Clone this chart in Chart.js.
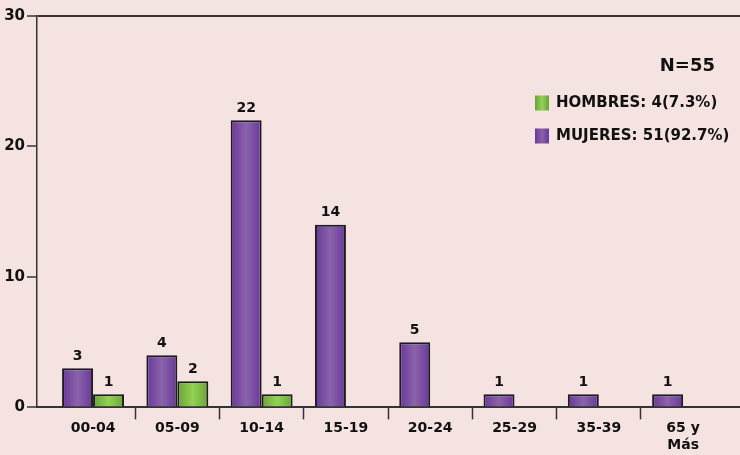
<!DOCTYPE html>
<html>
<head>
<meta charset="utf-8">
<script src="https://cdn.jsdelivr.net/npm/chart.js"></script>
<style>
html, body { margin:0; padding:0; background:#f4e3e1; }
#wrap { width:740px; height:455px; }
</style>
</head>
<body>
<div id="wrap"><canvas id="myChart"></canvas></div>
<script>
var categories = ['00-04', '05-09', '10-14', '15-19', '20-24', '25-29', '35-39', ['65 y', 'Más']];
var mujeres = [3, 4, 22, 14, 5, 1, 1, 1];
var hombres = [1, 2, 1, 0, 0, 0, 0, 0];
var yTicks = [0, 10, 20, 30];

var sum = function(a) { return a.reduce(function(s, v) { return s + v; }, 0); };
var total = sum(mujeres) + sum(hombres);
var legendText = function(name, arr) {
  return name + ': ' + sum(arr) + '(' + (sum(arr) / total * 100).toFixed(1) + '%)';
};

Chart.defaults.font.family = '"DejaVu Sans", Verdana, sans-serif';
Chart.defaults.font.weight = 'bold';
Chart.defaults.color = '#111';

// horizontal gradient on every bar
var barGradient = {
  id: 'barGradient',
  beforeDatasetDraw: function(chart, args) {
    var ctx = chart.ctx;
    var ds = chart.data.datasets[args.index];
    args.meta.data.forEach(function(el) {
      var p = el.getProps(['x', 'width'], true);
      var g = ctx.createLinearGradient(p.x - p.width / 2, 0, p.x + p.width / 2, 0);
      g.addColorStop(0, ds.edgeColor);
      g.addColorStop(0.5, ds.midColor);
      g.addColorStop(1, ds.edgeColor);
      if (!Object.isFrozen(el.options)) el.options.backgroundColor = g;
    });
  }
};

// numbers above bars
var valueLabels = {
  id: 'valueLabels',
  afterDatasetsDraw: function(chart) {
    var ctx = chart.ctx;
    ctx.save();
    ctx.font = 'bold 14px "DejaVu Sans"';
    ctx.fillStyle = '#111';
    ctx.textAlign = 'center';
    ctx.textBaseline = 'bottom';
    chart.data.datasets.forEach(function(ds, di) {
      chart.getDatasetMeta(di).data.forEach(function(el, i) {
        var v = ds.data[i].y;
        if (v > 0) ctx.fillText(v, el.x, el.y - 5);
      });
    });
    ctx.restore();
  }
};

// N and legend inside plot, top right
var cornerLegend = {
  id: 'cornerLegend',
  afterDraw: function(chart) {
    var ctx = chart.ctx;
    var r = chart.chartArea.right;
    ctx.save();
    ctx.fillStyle = '#111';
    ctx.textBaseline = 'middle';
    ctx.font = 'bold 18px "DejaVu Sans"';
    ctx.textAlign = 'right';
    ctx.fillText('N=' + total, r - 25, 66);
    ctx.font = 'bold 15px "DejaVu Sans"';
    ctx.textAlign = 'left';
    var list = chart.data.datasets.slice().reverse();
    list.forEach(function(ds, k) {
      var y = 103 + k * 33;
      var bx = r - 205, bw = 14, bh = 15;
      var g = ctx.createLinearGradient(bx, 0, bx + bw, 0);
      g.addColorStop(0, ds.edgeColor);
      g.addColorStop(0.5, ds.midColor);
      g.addColorStop(1, ds.edgeColor);
      ctx.fillStyle = g;
      ctx.fillRect(bx, y - bh / 2, bw, bh);
      ctx.fillStyle = '#111';
      ctx.fillText(ds.label, r - 184, y);
    });
    ctx.restore();
  }
};

var toXY = function(arr) { return arr.map(function(v, i) { return { x: i, y: v }; }); };

var myChart = document.getElementById('myChart').getContext('2d');
var EdadChart = new Chart(myChart, {
  type: 'bar',
  data: {
    datasets: [{
      label: legendText('MUJERES', mujeres),
      data: toXY(mujeres),
      edgeColor: '#69379a',
      midColor: '#8a63aa',
      backgroundColor: function() { return '#7a4fa3'; },
      borderColor: '#1c1c1c',
      borderWidth: 2,
      categoryPercentage: 0.735,
      barPercentage: 1
    }, {
      label: legendText('HOMBRES', hombres),
      data: toXY(hombres),
      edgeColor: '#68a237',
      midColor: '#94d254',
      backgroundColor: function() { return '#80bb47'; },
      borderColor: '#1c1c1c',
      borderWidth: 2,
      categoryPercentage: 0.735,
      barPercentage: 1
    }]
  },
  options: {
    responsive: true,
    maintainAspectRatio: false,
    animation: false,
    layout: { padding: { top: 16, right: 0, bottom: 0, left: 0 } },
    plugins: {
      legend: { display: false },
      tooltip: { enabled: false }
    },
    scales: {
      x: {
        type: 'linear',
        offset: false,
        bounds: 'data',
        min: -0.665,
        max: 7.675,
        afterBuildTicks: function(scale) {
          scale.ticks = categories.map(function(c, i) { return { value: i }; });
        },
        ticks: {
          autoSkip: false,
          maxRotation: 0,
          padding: 1,
          font: { size: 14, weight: 'bold' },
          callback: function(v) { return categories[v]; }
        },
        grid: {
          offset: true,
          drawOnChartArea: false,
          tickLength: 12,
          tickWidth: 1.5,
          tickColor: function(c) { return c && c.tick && c.index > 0 ? '#333' : 'transparent'; }
        },
        border: { display: true, color: '#333', width: 2 }
      },
      y: {
        min: 0,
        max: 30,
        afterBuildTicks: function(scale) {
          scale.ticks = yTicks.map(function(v) { return { value: v }; });
        },
        afterFit: function(scale) { scale.width = 37; },
        ticks: {
          padding: 2,
          font: { size: 15, weight: 'bold' }
        },
        grid: {
          color: function(c) { return c && c.tick && c.tick.value === 30 ? '#333' : 'transparent'; },
          lineWidth: 2,
          tickColor: '#333',
          tickLength: 10,
          tickWidth: 1.5
        },
        border: { display: true, color: '#333', width: 1.5 }
      }
    }
  },
  plugins: [barGradient, valueLabels, cornerLegend]
});
</script>
</body>
</html>
